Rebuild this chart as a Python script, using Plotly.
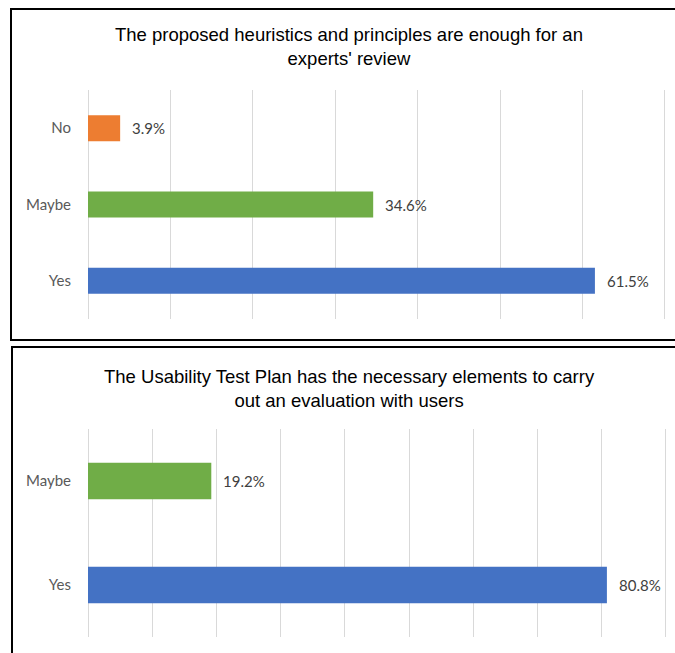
import plotly.graph_objects as go

W, H = 675, 653

# Data
top_title = "The proposed heuristics and principles are enough for an<br>experts' review"
top_categories = ["No", "Maybe", "Yes"]
top_values = [3.9, 34.6, 61.5]
top_colors = ["#ED7D31", "#70AD47", "#4472C4"]

bot_title = "The Usability Test Plan has the necessary elements to carry<br>out an evaluation with users"
bot_categories = ["Maybe", "Yes"]
bot_values = [19.2, 80.8]
bot_colors = ["#70AD47", "#4472C4"]

def px_x(p):
    return p / W

def px_y(p):
    return 1 - p / H

fig = go.Figure()

fig.add_trace(go.Bar(
    x=top_values, y=top_categories, orientation="h",
    marker=dict(color=top_colors, line=dict(width=0)),
    width=0.34, xaxis="x", yaxis="y", hoverinfo="skip", showlegend=False,
))
fig.add_trace(go.Bar(
    x=bot_values, y=bot_categories, orientation="h",
    marker=dict(color=bot_colors, line=dict(width=0)),
    width=0.35, xaxis="x2", yaxis="y2", hoverinfo="skip", showlegend=False,
))

label_font = dict(family="Lato, Open Sans, sans-serif", size=15, color="#404040")
annotations = []
for c, v in zip(top_categories, top_values):
    annotations.append(dict(x=v, y=c, xref="x", yref="y", text=f"{v:.1f}%",
                            showarrow=False, xanchor="left", xshift=10, font=label_font))
for c, v in zip(bot_categories, bot_values):
    annotations.append(dict(x=v, y=c, xref="x2", yref="y2", text=f"{v:.1f}%",
                            showarrow=False, xanchor="left", xshift=10, font=label_font))

title_font = dict(family="Liberation Sans, Arial, sans-serif", size=18.5, color="#000000")
annotations.append(dict(x=px_x(349), y=px_y(46), xref="paper", yref="paper", text=top_title,
                        showarrow=False, xanchor="center", yanchor="middle", font=title_font))
annotations.append(dict(x=px_x(349), y=px_y(388), xref="paper", yref="paper", text=bot_title,
                        showarrow=False, xanchor="center", yanchor="middle", font=title_font))

grid = "#D9D9D9"
tick_font = dict(family="Lato, Open Sans, sans-serif", size=15, color="#595959")

xcommon = dict(showticklabels=False, showgrid=True, gridcolor=grid, gridwidth=1,
               zeroline=True, zerolinecolor=grid, zerolinewidth=1, dtick=10,
               showline=False, fixedrange=True)
ycommon = dict(type="category", autorange="reversed", showgrid=False, zeroline=False,
               showline=False, tickfont=tick_font, ticks="", ticklabelstandoff=16,
               fixedrange=True)

fig.update_layout(
    width=W, height=H,
    margin=dict(l=0, r=0, t=0, b=0),
    paper_bgcolor="white", plot_bgcolor="white",
    xaxis=dict(domain=[px_x(88), px_x(669.1)], range=[0, 70.5], anchor="y", **xcommon),
    yaxis=dict(domain=[px_y(319), px_y(90)], anchor="x", **ycommon),
    xaxis2=dict(domain=[px_x(88), px_x(669.2)], range=[0, 90.5], anchor="y2", **xcommon),
    yaxis2=dict(domain=[px_y(637), px_y(429)], anchor="x2", **ycommon),
    annotations=annotations,
    shapes=[
        dict(type="rect", xref="paper", yref="paper",
             x0=px_x(11), x1=px_x(700), y0=px_y(340), y1=px_y(9),
             line=dict(color="black", width=2), fillcolor="rgba(0,0,0,0)", layer="above"),
        dict(type="rect", xref="paper", yref="paper",
             x0=px_x(12), x1=px_x(700), y0=px_y(680), y1=px_y(347),
             line=dict(color="black", width=2), fillcolor="rgba(0,0,0,0)", layer="above"),
    ],
)

fig.write_html("out.html")
